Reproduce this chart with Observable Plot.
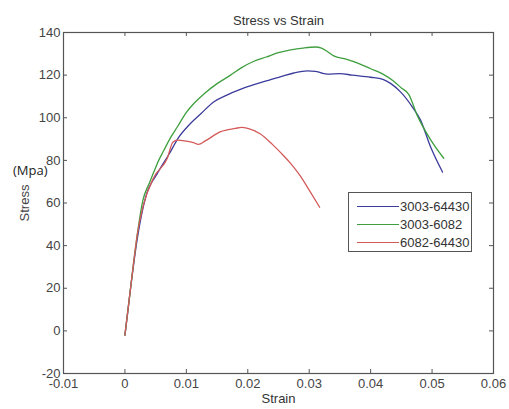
<!DOCTYPE html>
<html>
<head>
<meta charset="utf-8">
<script src="https://cdn.jsdelivr.net/npm/d3@7"></script>
<script src="https://cdn.jsdelivr.net/npm/@observablehq/plot@0.6"></script>
<style>
  html, body { margin: 0; padding: 0; background: #fff; }
  #wrap { position: relative; width: 509px; height: 409px; font-family: Arial, "Liberation Sans", sans-serif; }
  #legend { position: absolute; left: 348px; top: 192px; width: 124px; height: 60px; border: 1px solid #555; background: #fff; box-sizing: border-box; }
  .row { position: absolute; left: 0; height: 18px; display: flex; align-items: center; }
  .sw { width: 42px; height: 0; border-top: 1.3px solid; margin-left: 8px; margin-right: 1px; }
  .lab { font-size: 13px; color: #333; }
  #mpa { position: absolute; left: 13px; top: 161px; font-family: "Open Sans", sans-serif; font-size: 13px; line-height: 18px; color: #222; }
  #ylab { position: absolute; left: 24px; top: 203px; width: 0; height: 0; }
  #ylab span { position: absolute; transform: translate(-50%, -50%) rotate(-90deg); font-size: 13px; color: #444; white-space: nowrap; line-height: 15px; }
</style>
</head>
<body>
<div id="wrap"></div>
<script>
const seriesNames = ["3003-64430", "3003-6082", "6082-64430"];
const seriesColors = ["#3c3c9c", "#3f9f3f", "#d45a5a"];

const strain3003_64430 = [0,0.0005,0.001,0.0015,0.002,0.0034,0.0053,0.0072,0.0088,0.0104,0.0124,0.0145,0.0165,0.019,0.021,0.023,0.0254,0.0275,0.0297,0.031,0.032,0.033,0.035,0.037,0.040,0.042,0.0433,0.0449,0.0468,0.0481,0.0498,0.0517];
const stress3003_64430 = [-2,10,22,33,43,63,74,83,91,96.5,102,107.5,110.5,113.5,115.5,117.3,119.3,121,122,121.8,121,120.5,120.7,120,119,118,116,112,105,99,86,74.5];

const strain3003_6082 = [0,0.0005,0.001,0.0015,0.002,0.0029,0.004,0.0047,0.0055,0.0063,0.0075,0.0086,0.010,0.011,0.013,0.015,0.0172,0.019,0.021,0.023,0.025,0.027,0.029,0.031,0.032,0.033,0.034,0.036,0.038,0.040,0.042,0.0436,0.045,0.0462,0.0476,0.0498,0.0519];
const stress3003_6082 = [-2,10,22,34,45,61,69.5,74.5,80,84.5,91,96,102.5,106,111.5,116,120,123.5,126.5,128.5,130.5,131.8,132.7,133.2,132.7,131,129,127.5,125.5,123,120.5,117.5,114,111,101,89.5,81];

const strain6082_64430 = [0,0.0005,0.001,0.0015,0.002,0.003,0.0047,0.0069,0.0078,0.0086,0.010,0.011,0.012,0.013,0.0156,0.018,0.019,0.020,0.022,0.024,0.0254,0.027,0.0286,0.030,0.0317];
const stress6082_64430 = [-2,10,22,34,45,59,72,81,88.5,89.5,89,88.5,87.5,89,93.5,95,95.5,95,92.5,87.5,83.5,78.5,72.5,66,58];

const xTicks = [-0.01, 0, 0.01, 0.02, 0.03, 0.04, 0.05, 0.06];
const yTicks = [-20, 0, 20, 40, 60, 80, 100, 120, 140];

const strains = [strain3003_64430, strain3003_6082, strain6082_64430];
const stresses = [stress3003_64430, stress3003_6082, stress6082_64430];
const data = [];
seriesNames.forEach((name, i) => {
  strains[i].forEach((x, j) => data.push({series: name, strain: x, stress: stresses[i][j]}));
});

const W = 509, H = 409, mL = 63, mR = 16, mT = 32, mB = 36;
const innerW = W - mL - mR, innerH = H - mT - mB;
const tickLen = 4;
const fmtX = d => String(+d.toFixed(2));
const fmtY = d => String(d);

const plot = Plot.plot({
  width: W, height: H,
  marginLeft: mL, marginRight: mR, marginTop: mT, marginBottom: mB,
  style: {fontFamily: "Arial, 'Liberation Sans', sans-serif", fontSize: "13px", color: "#333", background: "#fff"},
  x: {domain: [-0.01, 0.06]},
  y: {domain: [-20, 140]},
  color: {domain: seriesNames, range: seriesColors},
  marks: [
    Plot.axisX({ticks: xTicks, tickSize: 0, tickPadding: 5, tickFormat: fmtX, label: null, fill: "#444"}),
    Plot.axisY({ticks: yTicks, tickSize: 0, tickPadding: 3, tickFormat: fmtY, label: null, fill: "#444"}),
    Plot.tickX(xTicks, {x: d => d, insetTop: innerH - tickLen, stroke: "#555"}),
    Plot.tickX(xTicks, {x: d => d, insetBottom: innerH - tickLen, stroke: "#555"}),
    Plot.tickY(yTicks, {y: d => d, insetRight: innerW - tickLen, stroke: "#555"}),
    Plot.tickY(yTicks, {y: d => d, insetLeft: innerW - tickLen, stroke: "#555"}),
    Plot.frame({stroke: "#555", strokeWidth: 1.2}),
    Plot.line(data, {x: "strain", y: "stress", z: "series", stroke: "series", strokeWidth: 1.3, curve: "monotone-x"}),
    Plot.text(["Stress vs Strain"], {frameAnchor: "top", dy: -17, fontSize: 13, fill: "#333"}),
    Plot.text(["Strain"], {frameAnchor: "bottom", dy: 29, fontSize: 13, fill: "#333"})
  ]
});

const wrap = document.getElementById("wrap");
wrap.appendChild(plot);

const mpa = document.createElement("div");
mpa.id = "mpa";
mpa.textContent = "(Mpa)";
wrap.appendChild(mpa);

const ylab = document.createElement("div");
ylab.id = "ylab";
const ys = document.createElement("span");
ys.textContent = "Stress";
ylab.appendChild(ys);
wrap.appendChild(ylab);

const legend = document.createElement("div");
legend.id = "legend";
seriesNames.forEach((name, i) => {
  const row = document.createElement("div");
  row.className = "row";
  row.style.top = (4 + i * 18) + "px";
  const sw = document.createElement("div");
  sw.className = "sw";
  sw.style.borderTopColor = seriesColors[i];
  const lab = document.createElement("span");
  lab.className = "lab";
  lab.textContent = name;
  row.appendChild(sw);
  row.appendChild(lab);
  legend.appendChild(row);
});
wrap.appendChild(legend);
</script>
</body>
</html>
